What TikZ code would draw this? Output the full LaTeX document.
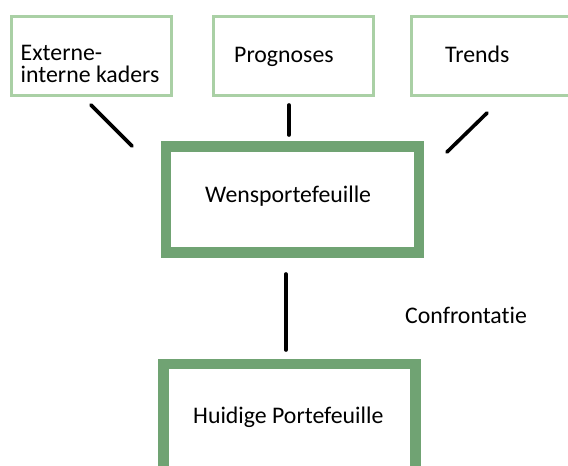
\documentclass[tikz,border=0pt]{standalone}
\usepackage{fontspec}
\setmainfont{Carlito}[Ligatures={NoCommon}]
\definecolor{thingreen}{RGB}{170,208,165}
\definecolor{thickgreen}{RGB}{112,163,115}
\begin{document}
\begin{tikzpicture}[x=1pt,y=-1pt,
  thinbox/.style={draw=thingreen,line width=3pt,rectangle,inner sep=0pt,fill=white},
  thickbox/.style={draw=thickgreen,line width=10.5pt,rectangle,inner sep=0pt,fill=white},
  conn/.style={line width=3.6pt,line cap=round,black},
  lbl/.style={font=\fontsize{23.8}{22}\selectfont,inner sep=0pt,anchor=base west,align=left}]
\useasboundingbox (0,0) rectangle (568,466);
\clip (0,0) rectangle (568,466);
% top boxes
\node[thinbox,minimum width=160pt,minimum height=79pt] (ext) at (91.5,56) {};
\node[thinbox,minimum width=160pt,minimum height=79pt] (prog) at (293,56) {};
\node[thinbox,minimum width=200pt,minimum height=79pt] (trend) at (511.5,56) {};
% middle and lower boxes
\node[thickbox,minimum width=253pt,minimum height=106pt] (wens) at (292.5,199.5) {};
\node[thickbox,minimum width=252pt,minimum height=140pt] (huid) at (289.5,434) {};
% texts
\node[lbl] (extt) at (20.5,82) {Externe-\\interne kaders};
\node[lbl] (progt) at (234,62) {Prognoses};
\node[lbl] (trendt) at (445,62) {Trends};
\node[lbl] (wenst) at (205,202) {Wensportefeuille};
\node[lbl] (huidt) at (193,423) {Huidige Portefeuille};
\node[lbl] (conf) at (405,323) {Confrontatie};
% connectors
\coordinate (a1) at (91,105);
\coordinate (a2) at (132,146);
\coordinate (b1) at (289,105);
\coordinate (b2) at (289,135);
\coordinate (c1) at (487,113);
\coordinate (c2) at (447,152);
\coordinate (d1) at (286,274);
\coordinate (d2) at (286,350);
\draw[conn] (a1) -- (a2);
\draw[conn] (b1) -- (b2);
\draw[conn] (c1) -- (c2);
\draw[conn] (d1) -- (d2);
\end{tikzpicture}
\end{document}
